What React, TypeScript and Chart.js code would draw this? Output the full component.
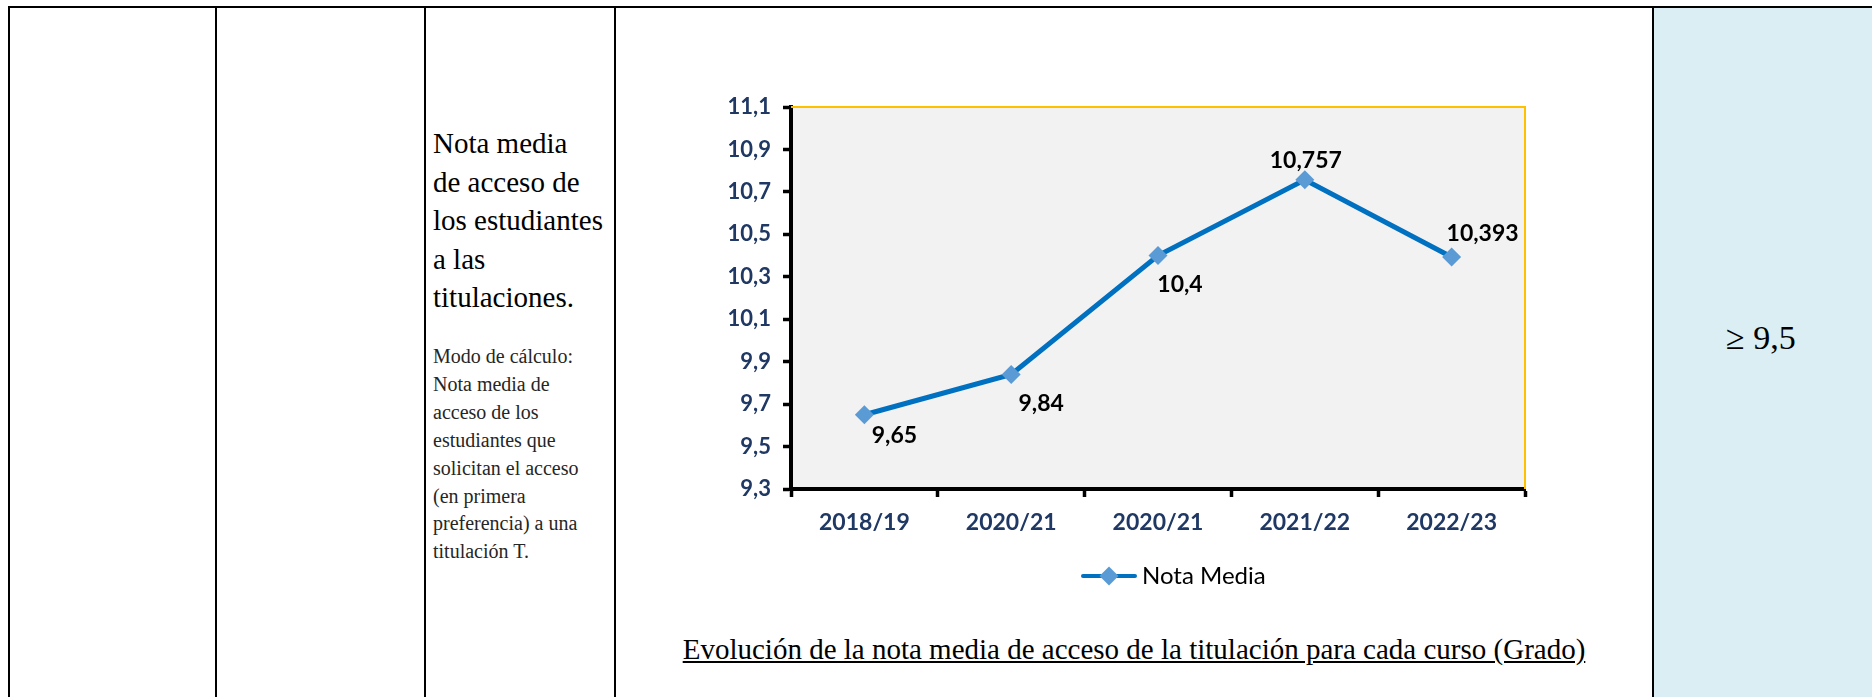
import React, { useEffect, useRef } from 'react';
import { Chart, registerables } from 'chart.js';

Chart.register(...registerables);

// ---- data ----
const categories: string[] = ['2018/19', '2020/21', '2020/21', '2021/22', '2022/23'];
const notaMedia: number[] = [9.65, 9.84, 10.4, 10.757, 10.393];
const seriesName = 'Nota Media';
const yMin = 9.3;
const yMax = 11.1;
const yStep = 0.2;

// ---- style ----
const labelOffsets: [number, number][] = [[30, 20], [30, 29], [22, 28], [1, -20], [31, -24]];
const NAVY = '#1F3864';
const LINE_BLUE = '#0070C0';
const MARKER_BLUE = '#5B9BD5';
const FONT = 'Lato, "Open Sans", sans-serif';
const SERIF = '"Liberation Serif", "Times New Roman", serif';

const fmt = (v: number) => String(v).replace('.', ',');

const plotPlugin = {
  id: 'plotDecor',
  beforeDraw(chart: any) {
    const { ctx, chartArea: a } = chart;
    ctx.save();
    ctx.fillStyle = '#F2F2F2';
    ctx.fillRect(a.left, a.top, a.right - a.left, a.bottom - a.top);
    ctx.restore();
  },
  beforeDatasetsDraw(chart: any) {
    const { ctx, chartArea: a } = chart;
    ctx.save();
    ctx.strokeStyle = '#FFC000';
    ctx.lineWidth = 2;
    ctx.beginPath();
    ctx.moveTo(a.left, a.top);
    ctx.lineTo(a.right, a.top);
    ctx.lineTo(a.right, a.bottom);
    ctx.stroke();
    ctx.restore();
  },
  afterDraw(chart: any) {
    const { ctx, chartArea: a } = chart;
    const meta = chart.getDatasetMeta(0);
    ctx.save();
    ctx.fillStyle = '#000';
    ctx.font = `bold 23px ${FONT}`;
    ctx.textAlign = 'center';
    ctx.textBaseline = 'alphabetic';
    meta.data.forEach((pt: any, i: number) => {
      const [dx, dy] = labelOffsets[i];
      ctx.fillText(fmt(notaMedia[i]), pt.x + dx, pt.y + dy + 8);
    });
    // legend
    const lx = a.left + 290;
    const ly = a.bottom + 87;
    ctx.strokeStyle = LINE_BLUE;
    ctx.lineWidth = 4;
    ctx.lineCap = 'round';
    ctx.beginPath();
    ctx.moveTo(lx + 2, ly);
    ctx.lineTo(lx + 54, ly);
    ctx.stroke();
    ctx.fillStyle = MARKER_BLUE;
    const r = 9.5;
    const cx = lx + 28;
    ctx.beginPath();
    ctx.moveTo(cx - r, ly);
    ctx.lineTo(cx, ly - r);
    ctx.lineTo(cx + r, ly);
    ctx.lineTo(cx, ly + r);
    ctx.closePath();
    ctx.fill();
    ctx.fillStyle = '#000';
    ctx.font = `24px ${FONT}`;
    ctx.textAlign = 'left';
    ctx.fillText(seriesName, lx + 61, ly + 8);
    ctx.restore();
  },
};

const abs = (l: number, t: number, w: number, h: number, extra: React.CSSProperties = {}): React.CSSProperties => ({
  position: 'absolute', left: l, top: t, width: w, height: h, ...extra,
});

export default function App() {
  const ref = useRef<HTMLCanvasElement>(null);

  useEffect(() => {
    if (!ref.current) return;
    const chart = new Chart(ref.current, {
      type: 'line',
      data: {
        labels: categories,
        datasets: [
          {
            label: seriesName,
            data: notaMedia,
            borderColor: LINE_BLUE,
            borderWidth: 5,
            pointStyle: 'rectRot',
            pointRadius: 9.5,
            pointBackgroundColor: MARKER_BLUE,
            pointBorderColor: MARKER_BLUE,
            pointBorderWidth: 0,
            tension: 0,
          },
        ],
      },
      options: {
        animation: false,
        responsive: false,
        events: [],
        layout: { padding: { left: 75, top: 99, right: 127, bottom: 79 } },
        plugins: { legend: { display: false }, tooltip: { enabled: false } },
        scales: {
          x: {
            type: 'category',
            offset: true,
            grid: { display: true, offset: true, drawOnChartArea: false, drawTicks: true, tickLength: 8, tickWidth: 3.5, tickColor: '#000' },
            border: { display: true, color: '#000', width: 4 },
            ticks: { color: NAVY, font: { family: FONT, size: 23, weight: 'bold' }, padding: 12, maxRotation: 0, autoSkip: false },
            afterFit: (s: any) => { s.height = 60; },
          },
          y: {
            min: yMin,
            max: yMax,
            grid: { display: true, drawOnChartArea: false, drawTicks: true, tickLength: 8, tickWidth: 3.5, tickColor: '#000' },
            border: { display: true, color: '#000', width: 4 },
            ticks: {
              stepSize: yStep,
              color: NAVY,
              font: { family: FONT, size: 22, weight: 'bold' },
              padding: 12,
              callback: (v: any) => Number(v).toFixed(1).replace('.', ','),
            },
            afterFit: (s: any) => { s.width = 100; },
          },
        },
      },
      plugins: [plotPlugin],
    } as any);
    return () => chart.destroy();
  }, []);

  const black = '#000';
  return (
    <div style={{ position: 'fixed', left: 0, top: 0, width: 1872, height: 697, overflow: 'hidden', background: '#fff' }}>
      <div style={abs(1654, 8, 218, 689, { background: '#DAEEF3' })} />
      <div style={abs(8, 6, 1864, 2, { background: black })} />
      <div style={abs(8, 6, 2, 691, { background: black })} />
      <div style={abs(215, 6, 2, 691, { background: black })} />
      <div style={abs(424, 6, 2, 691, { background: black })} />
      <div style={abs(614, 6, 2, 691, { background: black })} />
      <div style={abs(1652, 6, 2, 691, { background: black })} />

      <div style={abs(433, 124, 180, 200, { fontFamily: SERIF, fontSize: 29, lineHeight: '38.5px', color: '#000', whiteSpace: 'nowrap' })}>
        Nota media<br />de acceso de<br />los estudiantes<br />a las<br />titulaciones.
      </div>
      <div style={abs(433, 343, 180, 240, { fontFamily: SERIF, fontSize: 20, lineHeight: '27.9px', color: '#262626', whiteSpace: 'nowrap' })}>
        Modo de cálculo:<br />Nota media de<br />acceso de los<br />estudiantes que<br />solicitan el acceso<br />(en primera<br />preferencia) a una<br />titulación T.
      </div>

      <canvas ref={ref} width={1036} height={620} style={abs(616, 8, 1036, 620)} />

      <div style={abs(616, 635, 1036, 40, { fontFamily: SERIF, fontSize: 29, lineHeight: '29px', color: '#000', textAlign: 'center', whiteSpace: 'nowrap', textDecoration: 'underline' })}>
        Evolución de la nota media de acceso de la titulación para cada curso (Grado)
      </div>

      <div style={abs(1726, 321, 140, 40, { fontFamily: SERIF, fontSize: 34, lineHeight: '34px', color: '#000', whiteSpace: 'nowrap' })}>
        ≥ 9,5
      </div>
    </div>
  );
}
